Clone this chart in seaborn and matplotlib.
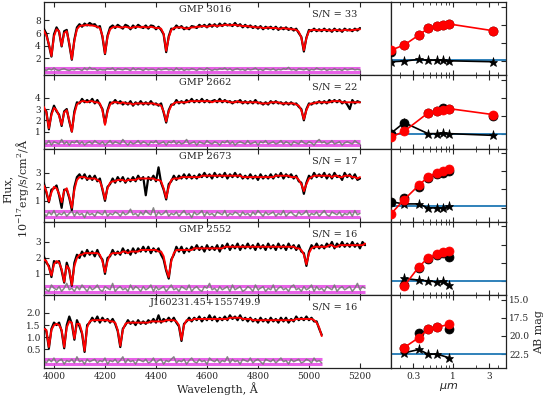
import numpy as np
import pandas as pd
import matplotlib
matplotlib.use('Agg')
import matplotlib.pyplot as plt
import seaborn as sns

# ==================================================
# Spectra (10 A sampling starting at 3960 A)
# ==================================================
wave_start = 3960
wave_step = 10

names = ['GMP 3016', 'GMP 2662', 'GMP 2673', 'GMP 2552', 'J160231.45+155749.9']
snr = [33, 22, 17, 16, 16]

flux_3016 = [6.7, 5.9, 4.1, 2.3, 5.8, 6.9, 6.2, 3.9, 6.3, 6.5,
             4.2, 1.8, 5.0, 6.9, 7.4, 7.0, 7.5, 7.2, 7.6, 7.3,
             7.4, 6.9, 7.1, 5.4, 2.7, 5.6, 6.9, 7.2, 6.8, 7.3,
             7.0, 6.7, 7.3, 7.1, 6.6, 7.2, 6.8, 7.3, 7.0, 6.8,
             7.2, 6.7, 7.2, 7.1, 6.6, 7.0, 6.5, 5.8, 3.0, 5.5,
             6.7, 6.6, 7.2, 6.8, 7.1, 6.6, 6.9, 6.6, 7.1, 7.0,
             6.8, 7.3, 7.0, 7.3, 6.9, 7.4, 7.0, 7.4, 7.0, 7.5,
             7.1, 7.5, 7.2, 7.4, 7.1, 7.6, 7.1, 7.4, 6.9, 7.3,
             6.9, 7.2, 6.8, 7.1, 6.7, 7.1, 6.6, 7.0, 6.7, 7.0,
             6.6, 7.0, 6.5, 6.9, 6.6, 6.9, 6.5, 6.8, 6.4, 6.7,
             6.0, 5.4, 3.1, 5.3, 6.5, 6.3, 6.7, 6.3, 6.6, 6.3,
             6.7, 6.3, 6.6, 6.2, 6.7, 6.3, 6.6, 6.2, 6.7, 6.4,
             6.6, 6.3, 6.7, 6.4, 6.8]
model_3016 = [6.4, 5.6, 4.3, 2.4, 5.5, 6.6, 6.3, 4.0, 6.0, 6.3,
              4.4, 1.9, 4.8, 6.6, 7.1, 7.2, 7.2, 7.3, 7.2, 7.2,
              7.1, 7.0, 6.8, 5.6, 2.8, 5.4, 6.6, 6.9, 7.0, 7.0,
              6.9, 6.9, 7.0, 6.9, 6.8, 6.9, 7.0, 7.0, 6.9, 7.0,
              6.9, 6.9, 7.0, 6.9, 6.8, 6.8, 6.7, 5.9, 3.2, 5.3,
              6.5, 6.8, 6.9, 6.9, 6.9, 6.8, 6.7, 6.8, 6.9, 6.9,
              7.0, 7.0, 7.1, 7.1, 7.0, 7.1, 7.2, 7.2, 7.1, 7.2,
              7.2, 7.3, 7.3, 7.2, 7.3, 7.3, 7.2, 7.2, 7.1, 7.1,
              7.1, 7.0, 7.0, 6.9, 6.9, 6.9, 6.8, 6.8, 6.9, 6.8,
              6.8, 6.8, 6.7, 6.7, 6.8, 6.7, 6.7, 6.6, 6.6, 6.5,
              6.2, 5.3, 3.3, 5.2, 6.3, 6.5, 6.5, 6.5, 6.4, 6.5,
              6.5, 6.5, 6.4, 6.4, 6.5, 6.5, 6.4, 6.4, 6.5, 6.5,
              6.4, 6.5, 6.5, 6.6, 6.6]
resid_3016 = [0.3, 0.1, 0.4, 0.2, 0.5, 0.2, 0.1, 0.3, 0.4, 0.2,
              0.1, 0.3, 0.2, 0.4, 0.3, 0.1, 0.5, 0.2, 0.6, 0.3,
              0.4, 0.1, 0.3, 0.2, 0.2, 0.4, 0.3, 0.5, 0.1, 0.4,
              0.3, 0.2, 0.4, 0.3, 0.1, 0.5, 0.2, 0.4, 0.3, 0.1,
              0.4, 0.2, 0.3, 0.3, 0.1, 0.4, 0.2, 0.3, 0.4, 0.2,
              0.3, 0.1, 0.5, 0.2, 0.4, 0.1, 0.3, 0.2, 0.4, 0.3,
              0.1, 0.4, 0.3, 0.2, 0.5, 0.3, 0.1, 0.3, 0.2, 0.4,
              0.3, 0.5, 0.2, 0.4, 0.1, 0.3, 0.4, 0.2, 0.3, 0.1,
              0.4, 0.2, 0.3, 0.5, 0.2, 0.3, 0.1, 0.4, 0.3, 0.2,
              0.4, 0.1, 0.3, 0.2, 0.4, 0.3, 0.6, 0.2, 0.3, 0.1,
              0.4, 0.3, 0.2, 0.4, 0.1, 0.3, 0.2, 0.5, 0.3, 0.2,
              0.4, 0.1, 0.3, 0.2, 0.4, 0.2, 0.3, 0.1, 0.4, 0.2,
              0.3, 0.4, 0.2, 0.3, 0.2]

flux_2662 = [3.0, 2.8, 1.2, 2.6, 3.3, 2.8, 2.5, 1.5, 2.8, 3.0,
             1.9, 1.0, 2.8, 3.6, 3.5, 3.9, 3.6, 3.8, 3.6, 3.9,
             3.5, 3.8, 3.4, 3.0, 1.7, 2.9, 3.6, 3.5, 3.8, 3.5,
             3.7, 3.4, 3.6, 3.4, 3.7, 3.3, 3.6, 3.4, 3.7, 3.4,
             3.6, 3.4, 3.7, 3.4, 3.5, 3.3, 3.5, 2.7, 1.8, 2.9,
             3.4, 3.4, 3.8, 3.5, 3.7, 3.5, 3.8, 3.6, 3.9, 3.6,
             3.8, 3.6, 3.9, 3.6, 3.8, 3.6, 3.7, 3.8, 3.6, 3.9,
             3.6, 3.8, 3.6, 3.7, 3.5, 3.7, 3.6, 3.8, 3.5, 3.7,
             3.5, 3.7, 3.5, 3.8, 3.5, 3.6, 3.4, 3.6, 3.4, 3.7,
             3.5, 3.7, 3.5, 3.6, 3.4, 3.6, 3.4, 3.6, 3.4, 3.5,
             3.2, 3.0, 2.0, 3.0, 3.5, 3.4, 3.6, 3.5, 3.7, 3.5,
             3.7, 3.5, 3.8, 3.6, 3.8, 3.6, 3.8, 3.5, 3.7, 3.4,
             3.0, 3.8, 3.5, 3.7, 3.6]
model_2662 = [3.2, 2.7, 1.3, 2.5, 3.1, 2.9, 2.4, 1.6, 2.7, 2.9,
              2.0, 1.0, 2.6, 3.4, 3.6, 3.7, 3.7, 3.6, 3.7, 3.7,
              3.6, 3.6, 3.5, 2.9, 1.6, 2.8, 3.4, 3.6, 3.6, 3.6,
              3.5, 3.6, 3.5, 3.5, 3.5, 3.4, 3.5, 3.5, 3.5, 3.5,
              3.5, 3.5, 3.5, 3.5, 3.4, 3.4, 3.3, 2.8, 1.9, 2.8,
              3.3, 3.5, 3.6, 3.6, 3.6, 3.6, 3.6, 3.7, 3.7, 3.7,
              3.7, 3.7, 3.7, 3.7, 3.7, 3.7, 3.6, 3.7, 3.7, 3.7,
              3.7, 3.7, 3.7, 3.6, 3.6, 3.6, 3.7, 3.6, 3.6, 3.6,
              3.6, 3.6, 3.6, 3.6, 3.6, 3.5, 3.5, 3.5, 3.5, 3.6,
              3.6, 3.6, 3.6, 3.5, 3.5, 3.5, 3.5, 3.5, 3.5, 3.4,
              3.3, 2.9, 2.1, 2.9, 3.4, 3.5, 3.5, 3.6, 3.6, 3.6,
              3.6, 3.6, 3.6, 3.7, 3.7, 3.7, 3.7, 3.6, 3.6, 3.6,
              3.6, 3.6, 3.6, 3.6, 3.6]
resid_2662 = [0.0, -0.1, 0.2, -0.2, 0.1, 0.0, -0.1, 0.3, -0.1, 0.1,
              -0.2, 0.1, 0.0, 0.2, -0.1, 0.1, -0.2, 0.0, 0.1, -0.1,
              0.2, 0.0, -0.1, 0.1, -0.2, 0.0, 0.2, -0.1, 0.1, 0.0,
              -0.1, 0.3, 0.0, -0.2, 0.1, -0.1, 0.0, 0.2, -0.1, 0.1,
              0.0, -0.2, 0.1, 0.0, 0.2, -0.1, 0.0, 0.1, -0.2, 0.1,
              0.0, 0.2, -0.1, 0.1, -0.1, 0.0, 0.3, -0.1, 0.0, 0.1,
              -0.2, 0.1, 0.0, -0.1, 0.2, 0.0, -0.1, 0.1, 0.0, -0.2,
              0.1, 0.0, 0.2, -0.1, 0.1, -0.2, 0.0, 0.1, 0.0, -0.1,
              0.2, -0.1, 0.0, 0.1, -0.2, 0.1, 0.0, 0.2, -0.1, 0.0,
              0.1, -0.1, 0.0, 0.2, -0.1, 0.1, 0.0, -0.2, 0.1, 0.0,
              -0.1, 0.2, 0.0, -0.1, 0.1, 0.0, -0.2, 0.1, 0.3, 0.0,
              0.1, -0.1, 0.0, 0.2, -0.1, 0.0, 0.1, -0.2, 0.0, 0.1,
              0.0, -0.1, 0.2, 0.0, -0.1]

flux_2673 = [2.3, 1.6, 0.9, 1.8, 1.9, 2.1, 1.4, 0.5, 1.8, 1.8,
             1.2, 0.35, 2.0, 2.7, 2.9, 2.6, 2.9, 2.5, 2.8, 2.5,
             2.8, 2.4, 2.6, 1.8, 1.0, 2.0, 2.2, 2.6, 2.3, 2.7,
             2.4, 2.7, 2.3, 2.6, 2.4, 2.7, 2.4, 2.8, 2.5, 2.7,
             1.4, 2.7, 2.5, 2.8, 2.4, 3.4, 2.3, 1.8, 1.1, 2.2,
             2.4, 2.8, 2.5, 2.8, 2.6, 2.9, 2.6, 2.9, 2.6, 2.8,
             2.6, 2.9, 2.7, 3.0, 2.7, 2.9, 2.6, 3.0, 2.7, 2.9,
             2.7, 3.0, 2.6, 2.9, 2.7, 3.0, 2.7, 2.9, 2.6, 2.8,
             2.6, 2.9, 2.6, 2.8, 2.5, 2.9, 2.6, 2.8, 2.6, 2.9,
             2.6, 2.9, 2.7, 3.0, 2.6, 2.9, 2.7, 2.9, 2.6, 2.8,
             2.4, 2.3, 1.5, 2.3, 2.8, 2.6, 3.0, 2.7, 2.9, 2.7,
             3.0, 2.6, 2.9, 2.6, 3.0, 2.7, 2.8, 2.5, 3.0, 2.7,
             2.9, 2.6, 2.9, 2.5, 2.6]
model_2673 = [2.1, 1.7, 0.95, 1.6, 2.0, 1.9, 1.5, 0.9, 1.7, 1.9,
              1.3, 0.5, 1.8, 2.5, 2.7, 2.7, 2.7, 2.6, 2.6, 2.6,
              2.6, 2.5, 2.4, 1.9, 1.1, 1.9, 2.3, 2.4, 2.4, 2.5,
              2.5, 2.5, 2.4, 2.5, 2.5, 2.5, 2.5, 2.6, 2.6, 2.6,
              2.6, 2.6, 2.6, 2.6, 2.5, 2.5, 2.4, 1.9, 1.2, 2.0,
              2.5, 2.6, 2.6, 2.6, 2.7, 2.7, 2.7, 2.7, 2.7, 2.7,
              2.7, 2.7, 2.8, 2.8, 2.8, 2.8, 2.8, 2.8, 2.8, 2.8,
              2.8, 2.8, 2.8, 2.8, 2.8, 2.8, 2.8, 2.8, 2.7, 2.7,
              2.7, 2.7, 2.7, 2.7, 2.7, 2.7, 2.7, 2.7, 2.7, 2.7,
              2.7, 2.8, 2.8, 2.8, 2.8, 2.8, 2.8, 2.7, 2.7, 2.7,
              2.5, 2.2, 1.7, 2.2, 2.6, 2.7, 2.8, 2.8, 2.8, 2.8,
              2.8, 2.8, 2.8, 2.7, 2.8, 2.8, 2.7, 2.7, 2.8, 2.8,
              2.8, 2.7, 2.7, 2.6, 2.7]
resid_2673 = [0.1, -0.1, 0.2, 0.0, 0.3, -0.1, 0.1, 0.0, 0.2, -0.1,
              0.1, 0.3, -0.1, 0.2, 0.0, 0.1, -0.2, 0.2, 0.0, 0.1,
              -0.1, 0.2, 0.1, 0.0, 0.3, -0.1, 0.1, 0.0, 0.2, 0.1,
              -0.1, 0.2, 0.0, 0.1, 0.4, 0.0, 0.1, -0.1, 0.2, 0.0,
              0.3, 0.1, 0.0, 0.5, -0.1, 0.2, 0.0, 0.1, 0.3, -0.1,
              0.1, 0.0, 0.2, -0.1, 0.1, 0.3, 0.0, 0.1, -0.2, 0.2,
              0.0, 0.1, 0.3, -0.1, 0.2, 0.0, 0.1, -0.1, 0.2, 0.1,
              0.0, 0.3, -0.1, 0.1, 0.0, 0.2, 0.1, -0.1, 0.2, 0.0,
              0.1, -0.1, 0.2, 0.0, 0.3, 0.1, -0.1, 0.2, 0.0, 0.1,
              0.2, -0.1, 0.1, 0.0, 0.3, -0.1, 0.1, 0.2, 0.0, -0.1,
              0.2, 0.0, 0.1, 0.3, -0.1, 0.1, 0.0, 0.2, -0.1, 0.1,
              0.3, 0.0, -0.1, 0.2, 0.1, 0.0, 0.2, -0.1, 0.1, 0.0,
              0.2, -0.1, 0.3, 0.0, 0.1]

flux_2552 = [2.1, 1.7, 1.5, 0.8, 1.8, 1.7, 1.8, 1.2, 0.45, 1.7,
             1.2, 0.25, 1.7, 2.2, 2.0, 2.4, 2.1, 2.5, 2.2, 2.4,
             2.1, 2.5, 2.1, 1.9, 1.0, 2.0, 2.1, 2.5, 2.2, 2.4,
             2.2, 2.6, 2.3, 2.5, 2.2, 2.6, 2.3, 2.6, 2.4, 2.7,
             2.4, 2.7, 2.3, 2.6, 2.4, 2.6, 2.2, 1.9, 1.2, 0.7,
             1.9, 2.2, 2.7, 2.4, 2.7, 2.3, 2.6, 2.4, 2.7, 2.5,
             2.8, 2.5, 2.7, 2.4, 2.8, 2.5, 2.7, 2.5, 2.8, 2.4,
             2.8, 2.6, 2.9, 2.5, 2.8, 2.6, 2.9, 2.5, 2.8, 2.6,
             2.9, 2.6, 2.8, 2.5, 2.9, 2.6, 2.8, 2.5, 2.9, 2.6,
             2.8, 2.5, 2.9, 2.6, 2.8, 2.5, 2.9, 2.6, 2.8, 2.5,
             2.8, 2.4, 2.3, 1.5, 2.4, 2.8, 2.6, 2.9, 2.6, 2.8,
             2.6, 2.9, 2.7, 3.0, 2.6, 2.9, 2.7, 3.0, 2.7, 2.9,
             2.7, 3.0, 2.7, 2.9, 2.6, 3.0, 2.8]
model_2552 = [1.9, 1.8, 1.4, 0.9, 1.6, 1.8, 1.7, 1.3, 0.5, 1.5,
              1.3, 0.3, 1.5, 2.0, 2.2, 2.2, 2.3, 2.3, 2.3, 2.3,
              2.3, 2.3, 2.2, 1.8, 1.1, 1.8, 2.2, 2.3, 2.3, 2.3,
              2.3, 2.4, 2.4, 2.3, 2.4, 2.4, 2.4, 2.4, 2.5, 2.5,
              2.5, 2.5, 2.5, 2.5, 2.5, 2.4, 2.4, 2.1, 1.3, 0.8,
              1.8, 2.3, 2.5, 2.5, 2.5, 2.5, 2.5, 2.5, 2.5, 2.6,
              2.6, 2.6, 2.6, 2.6, 2.6, 2.6, 2.6, 2.6, 2.6, 2.6,
              2.6, 2.7, 2.7, 2.7, 2.7, 2.7, 2.7, 2.7, 2.7, 2.7,
              2.7, 2.7, 2.7, 2.7, 2.7, 2.7, 2.7, 2.7, 2.7, 2.7,
              2.7, 2.7, 2.7, 2.7, 2.7, 2.7, 2.7, 2.7, 2.7, 2.6,
              2.6, 2.5, 2.2, 1.6, 2.3, 2.6, 2.7, 2.7, 2.7, 2.7,
              2.7, 2.7, 2.8, 2.8, 2.7, 2.7, 2.8, 2.8, 2.8, 2.8,
              2.8, 2.8, 2.8, 2.8, 2.8, 2.8, 2.9]
resid_2552 = [0.2, 0.0, -0.1, 0.3, 0.1, 0.0, 0.2, -0.1, 0.1, 0.4,
              0.0, 0.1, -0.1, 0.2, 0.0, 0.3, 0.1, -0.1, 0.2, 0.0,
              0.1, 0.3, 0.0, -0.1, 0.2, 0.1, 0.0, 0.4, -0.1, 0.1,
              0.2, 0.0, 0.1, -0.1, 0.3, 0.0, 0.2, 0.1, -0.1, 0.2,
              0.0, 0.1, 0.3, -0.1, 0.2, 0.0, 0.1, 0.2, -0.1, 0.1,
              0.3, 0.0, 0.1, -0.1, 0.2, 0.1, 0.0, 0.3, -0.1, 0.1,
              0.2, 0.0, -0.1, 0.2, 0.1, 0.4, 0.0, 0.1, -0.1, 0.2,
              0.0, 0.1, 0.2, -0.1, 0.3, 0.0, 0.1, 0.2, -0.1, 0.0,
              0.2, 0.1, -0.1, 0.3, 0.0, 0.1, 0.2, -0.1, 0.1, 0.0,
              0.3, -0.1, 0.1, 0.2, 0.0, 0.1, -0.1, 0.2, 0.3, 0.0,
              0.1, -0.1, 0.2, 0.0, 0.1, 0.3, -0.1, 0.2, 0.0, 0.1,
              -0.1, 0.2, 0.1, 0.0, 0.3, -0.1, 0.1, 0.2, 0.0, 0.1,
              0.2, -0.1, 0.1, 0.4, 0.0, 0.2, 0.1]

flux_j1602 = [1.4, 1.25, 0.55, 1.35, 1.6, 1.5, 1.6, 1.25, 0.55, 1.5,
              1.85, 1.55, 0.9, 1.7, 1.45, 1.15, 0.4, 1.5, 1.6, 1.8,
              1.65, 1.85, 1.6, 1.8, 1.65, 1.75, 1.6, 1.75, 1.55, 1.25,
              0.6, 1.35, 1.5, 1.7, 1.55, 1.65, 1.5, 1.7, 1.55, 1.65,
              1.55, 1.7, 1.6, 1.75, 1.6, 1.9, 1.6, 1.75, 1.65, 1.8,
              1.65, 1.8, 1.6, 1.45, 0.85, 1.55, 1.65, 1.8, 1.65, 1.8,
              1.7, 1.85, 1.65, 1.8, 1.7, 1.9, 1.7, 1.85, 1.65, 1.8,
              1.7, 1.85, 1.7, 1.9, 1.75, 1.85, 1.7, 1.9, 1.7, 1.8,
              1.65, 1.8, 1.65, 1.75, 1.6, 1.8, 1.65, 1.75, 1.6, 1.8,
              1.65, 1.75, 1.6, 1.8, 1.65, 1.8, 1.6, 1.75, 1.65, 1.85,
              1.7, 1.8, 1.7, 1.85, 1.7, 1.8, 1.65, 1.65, 1.35, 1.1]
model_j1602 = [1.35, 1.3, 0.6, 1.3, 1.5, 1.55, 1.5, 1.3, 0.6, 1.4,
               1.65, 1.6, 0.95, 1.55, 1.55, 1.2, 0.45, 1.4, 1.65, 1.7,
               1.7, 1.7, 1.7, 1.7, 1.7, 1.7, 1.65, 1.65, 1.6, 1.3,
               0.65, 1.3, 1.55, 1.6, 1.6, 1.6, 1.6, 1.6, 1.6, 1.6,
               1.6, 1.6, 1.65, 1.65, 1.65, 1.65, 1.65, 1.65, 1.7, 1.7,
               1.7, 1.7, 1.65, 1.5, 0.9, 1.5, 1.7, 1.7, 1.7, 1.75,
               1.75, 1.75, 1.75, 1.75, 1.75, 1.75, 1.75, 1.75, 1.75, 1.75,
               1.75, 1.75, 1.75, 1.8, 1.8, 1.8, 1.8, 1.8, 1.75, 1.75,
               1.75, 1.75, 1.7, 1.7, 1.7, 1.7, 1.7, 1.7, 1.7, 1.7,
               1.7, 1.7, 1.7, 1.7, 1.7, 1.7, 1.7, 1.7, 1.7, 1.75,
               1.75, 1.75, 1.75, 1.75, 1.75, 1.75, 1.7, 1.6, 1.4, 1.05]
resid_j1602 = [0.05, -0.05, 0.1, 0.0, 0.15, -0.05, 0.05, 0.1, -0.1, 0.05,
               0.0, 0.1, -0.05, 0.2, 0.0, 0.05, -0.1, 0.1, 0.0, 0.05,
               0.1, -0.05, 0.05, 0.0, 0.15, -0.1, 0.05, 0.0, 0.1, -0.05,
               0.05, 0.2, -0.05, 0.1, 0.0, 0.05, -0.1, 0.1, 0.05, 0.0,
               0.1, -0.05, 0.0, 0.15, -0.05, 0.05, 0.1, -0.1, 0.05, 0.0,
               0.1, 0.2, -0.05, 0.05, 0.0, 0.1, -0.1, 0.05, 0.15, 0.0,
               -0.05, 0.1, 0.0, 0.05, -0.1, 0.15, 0.05, 0.0, 0.1, -0.05,
               0.05, 0.0, 0.2, -0.05, 0.1, 0.0, 0.05, -0.1, 0.1, 0.05,
               0.0, 0.15, -0.05, 0.05, 0.1, 0.0, -0.1, 0.1, 0.05, 0.0,
               0.1, -0.05, 0.05, 0.15, 0.0, 0.05, -0.1, 0.1, 0.0, 0.05,
               0.1, -0.05, 0.0, 0.1, 0.05, -0.05, 0.15, 0.0, 0.05, -0.05]

flux_all = [flux_3016, flux_2662, flux_2673, flux_2552, flux_j1602]
model_all = [model_3016, model_2662, model_2673, model_2552, model_j1602]
resid_all = [resid_3016, resid_2662, resid_2673, resid_2552, resid_j1602]

# error envelope drawn around the residuals
err_hi = [0.55, 0.15, 0.28, 0.26, 0.11]
err_lo = [-0.05, -0.23, -0.17, -0.12, -0.11]

spec_ylims = [(-0.64, 10.9), (-0.5, 6.0), (-0.5, 4.75), (-0.33, 4.27), (-0.27, 2.73)]
spec_yticks = [[2, 4, 6, 8], [1, 2, 3, 4], [1, 2, 3], [1, 2, 3], [0.5, 1.0, 1.5, 2.0]]
spec_ytick_labels = [['2', '4', '6', '8'], ['1', '2', '3', '4'], ['1', '2', '3'],
                     ['1', '2', '3'], ['0.5', '1.0', '1.5', '2.0']]
wave_ticks = [4000, 4200, 4400, 4600, 4800, 5000, 5200]

# ==================================================
# Photometry (FUV, NUV, u, g, r, i, z, W1)
# ==================================================
band_wave = [0.153, 0.227, 0.355, 0.468, 0.616, 0.748, 0.893, 3.4]
nan = np.nan
mag_fit = [[20.98, 20.29, 18.91, 17.99, 17.63, 17.50, 17.39, 18.32],
           [22.87, 22.08, nan, 19.56, 19.28, 19.09, 18.96, 19.78],
           [23.33, 21.39, 19.42, 18.26, 17.71, 17.49, 17.21, nan],
           [nan, 23.19, 20.57, 19.33, 18.86, 18.50, 18.36, nan],
           [nan, 21.59, 20.22, 19.09, 18.78, nan, 18.41, nan]]
mag_obs = [[21.21, 20.29, 18.85, 17.99, 17.63, 17.50, 17.39, 18.32],
           [22.40, 20.88, nan, 19.56, 19.28, 18.87, 18.96, 19.97],
           [21.71, 21.16, 19.60, 18.45, 17.90, 17.68, 17.40, nan],
           [nan, 23.00, 20.70, 19.45, 18.95, 18.60, 19.19, nan],
           [nan, 21.70, 19.60, 19.09, 18.78, nan, 19.00, nan]]
mag_depth = [[22.59, 22.50, 22.26, 22.40, 22.36, 22.40, 22.46, 22.59],
             [22.32, 20.88, nan, 22.40, 22.40, 22.27, 22.40, 22.64],
             [21.71, 21.99, 21.99, 22.54, 22.54, 22.54, 22.32, nan],
             [nan, 22.17, 22.40, 22.50, 22.64, 22.50, 23.09, nan],
             [nan, 22.32, 21.86, 22.50, 22.50, nan, 23.00, nan]]
depth_line = [22.40, 22.46, 22.32, 22.50, 22.50]

sed_ylim = (24.45, 14.36)
sed_yticks = [15, 17.5, 20, 22.5]
sed_ytick_labels = ['15.0', '17.5', '20.0', '22.5']
sed_xticks = [0.3, 1, 3]
sed_xtick_labels = ['0.3', '1', '3']

# ==================================================
# Figure
# ==================================================
sns.set_theme(style='ticks')
plt.rcParams['font.family'] = ['DejaVu Serif']
plt.rcParams['xtick.direction'] = 'in'
plt.rcParams['ytick.direction'] = 'in'

fig = plt.figure(figsize=(5.51, 3.97), dpi=100)
axes = fig.subplots(5, 2, sharex='col',
                    gridspec_kw=dict(width_ratios=[346.4, 115.3], wspace=0, hspace=0))
fig.subplots_adjust(left=0.0804, right=0.918, top=0.995, bottom=0.0723)

for i in range(5):
    ax = axes[i, 0]
    w_flux = wave_start + wave_step * np.arange(len(flux_all[i]))
    w_model = wave_start + wave_step * np.arange(len(model_all[i]))
    w_res = wave_start + wave_step * np.arange(len(resid_all[i]))

    ax.hlines([err_hi[i], err_lo[i]], w_res[0], w_res[-1], color='#e650e6', lw=2.2, alpha=0.9, zorder=1)
    sns.lineplot(x=w_res, y=resid_all[i], ax=ax, color='#7a7a7a', lw=1.1, alpha=0.9,
                 estimator=None, errorbar=None, zorder=2)
    sns.lineplot(x=w_flux, y=flux_all[i], ax=ax, color='black', lw=1.6,
                 estimator=None, errorbar=None, zorder=3)
    sns.lineplot(x=w_model, y=model_all[i], ax=ax, color='red', lw=1.4,
                 estimator=None, errorbar=None, zorder=4)

    ax.set_xlim(3962, 5320)
    ax.set_ylim(*spec_ylims[i])
    ax.set_yticks(spec_yticks[i], labels=spec_ytick_labels[i])
    ax.set_xticks(wave_ticks)
    ax.tick_params(labelsize=6.5, length=3.5, width=0.8, top=True, right=False, pad=2.5)
    ax.text(0.465, 0.895, names[i], transform=ax.transAxes, ha='center', va='center', fontsize=7)
    ax.text(0.905, 0.835, f'S/N = {snr[i]}', transform=ax.transAxes, ha='right', va='center', fontsize=7)
    ax.set_xlabel('')
    ax.set_ylabel('')

    # photometry panel
    sx = axes[i, 1]
    sx.set_xscale('log')
    phot = pd.DataFrame({'wave': band_wave, 'fit': mag_fit[i], 'obs': mag_obs[i], 'depth': mag_depth[i]})
    sx.axhline(depth_line[i], color='#1f77b4', lw=1.3, zorder=1)
    d = phot.dropna(subset=['depth'])
    sns.lineplot(data=d, x='wave', y='depth', ax=sx, color='black', lw=1.2, marker='*',
                 markersize=6.5, markeredgecolor='black', markeredgewidth=0.5,
                 estimator=None, errorbar=None, sort=False, zorder=2)
    o = phot.dropna(subset=['obs'])
    sns.scatterplot(data=o, x='wave', y='obs', ax=sx, color='black', s=42,
                    edgecolor='black', linewidth=0.5, zorder=3)
    f = phot.dropna(subset=['fit'])
    sns.lineplot(data=f, x='wave', y='fit', ax=sx, color='red', lw=1.2, marker='o',
                 markersize=6.5, markeredgecolor='red', markeredgewidth=0.5,
                 estimator=None, errorbar=None, sort=False, zorder=4)

    sx.set_xlim(0.15, 5)
    sx.set_ylim(*sed_ylim)
    sx.set_yticks(sed_yticks, labels=sed_ytick_labels)
    sx.set_xticks(sed_xticks, labels=sed_xtick_labels)
    sx.tick_params(axis='both', which='both', labelsize=6.5, top=True, direction='in', pad=2.5)
    sx.tick_params(axis='y', left=False, right=True, labelleft=False, labelright=(i == 4),
                   length=3.5, width=0.8)
    sx.tick_params(axis='x', which='major', length=3.5, width=0.8)
    sx.tick_params(axis='x', which='minor', length=2, width=0.6)
    sx.set_xlabel('')
    sx.set_ylabel('')

for ax in axes.flat:
    for sp in ax.spines.values():
        sp.set_color('#222222')
        sp.set_linewidth(0.9)

axes[4, 0].set_xlabel('Wavelength, Å', fontsize=8, labelpad=1)
axes[4, 1].set_xlabel(r'$\mu m$', fontsize=8, labelpad=0)
axes[4, 1].yaxis.set_label_position('right')
axes[4, 1].set_ylabel('AB mag', fontsize=8, labelpad=3)

fig.text(0.03, 0.525, 'Flux,\n$10^{-17}$erg/s/cm$^2$/Å', rotation=90, ha='center', va='center',
         fontsize=8, multialignment='center', linespacing=1.1, math_fontfamily='dejavuserif')

fig.savefig('out.png', dpi=100)
